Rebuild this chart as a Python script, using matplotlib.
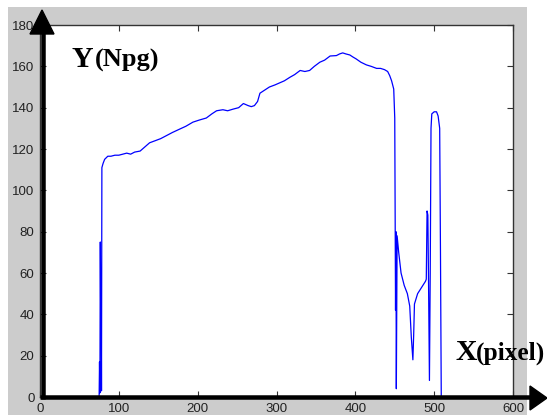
import matplotlib
matplotlib.use("Agg")
import matplotlib.pyplot as plt
from matplotlib.patches import Rectangle, Polygon
from matplotlib.lines import Line2D

# ---- data ----
x_vals = [0, 75.0, 75.5, 76.0, 76.5, 77.0, 77.5, 78.0, 78.5, 80, 82, 86, 90, 95, 100, 105,
          110, 115, 120, 127, 133, 139, 146, 153, 160, 168, 177, 185, 194, 202, 211,
          218, 224, 232, 238, 245, 252, 258, 264, 268, 272, 276, 279, 285, 291, 298,
          304, 310, 317, 323, 330, 336, 342, 348, 355, 361, 368, 376, 380, 384, 388,
          393, 397, 401, 407, 414, 420, 427, 432, 437, 441, 443.6, 446, 448.7, 450,
          451, 451.5, 452, 453, 455, 458, 462, 466, 469, 471, 473, 474, 475, 479,
          484, 489, 490, 491, 492, 493, 494, 495, 496, 497, 500, 503, 505, 507, 508,
          509, 512]
y_vals = [0, 0, 17, 2, 75, 39, 60, 3, 111, 113, 115, 116.5, 116.5, 117, 117, 117.5,
          118, 117.5, 118.5, 119, 121, 123, 124, 125, 126.4, 128, 129.6, 131, 133, 134, 135,
          137, 138.5, 139, 138.5, 139.3, 140, 142, 141, 140.5, 141, 143, 147, 148.5, 150, 151,
          152, 153, 154.7, 156, 158, 157.5, 158, 160, 162, 163, 165, 165.2, 166, 166.5, 166,
          165.5, 164.5, 163.6, 162, 160.7, 160, 159, 159, 158.4, 157.5, 155.5, 153, 149, 135,
          42, 80, 4, 78, 70, 60, 54, 50, 44, 29, 18, 30, 45, 50,
          53, 56, 57, 90, 88, 50, 8, 60, 130, 137, 138, 138, 136, 130, 70,
          0, 0]

x_ticks = [0, 100, 200, 300, 400, 500, 600]
y_ticks = [0, 20, 40, 60, 80, 100, 120, 140, 160, 180]

W, H = 547, 415
fig = plt.figure(figsize=(W / 100, H / 100), dpi=100)
fig.patch.set_facecolor("white")

def fp(x, y):
    return (x / W, 1 - y / H)

# gray MATLAB-like background
bg = Rectangle(fp(8, 415), (527 - 8) / W, (415 - 7) / H,
               transform=fig.transFigure, facecolor="#cccccc",
               edgecolor="none", zorder=-10)
fig.add_artist(bg)

ax = fig.add_axes([40 / W, (H - 397) / H, (513 - 40) / W, (397 - 25) / H])
ax.set_zorder(1)
ax.set_facecolor("white")
ax.plot(x_vals, y_vals, color="#0000ff", lw=0.9)
ax.set_xlim(0, 600)
ax.set_ylim(0, 180)
ax.set_xticks(x_ticks)
ax.set_yticks(y_ticks)
ax.tick_params(direction="in", length=4.5, width=0.8, colors="#333333",
               top=True, right=True, labelsize=9.5, labelcolor="#222222", pad=4)
for lab in ax.get_xticklabels() + ax.get_yticklabels():
    lab.set_fontfamily("Liberation Sans")
for s in ax.spines.values():
    s.set_color("#333333")
    s.set_linewidth(1.0)

# thick black arrows
lw_px = 4.5
arts = [
    Line2D([fp(42.5, 0)[0]] * 2, [fp(0, 399)[1], fp(0, 30)[1]],
           transform=fig.transFigure, color="black", lw=lw_px * 0.72,
           solid_capstyle="butt", zorder=5),
    Polygon([fp(42, 10), fp(30, 34), fp(54, 34)], closed=True,
            transform=fig.transFigure, color="black", zorder=5),
    Line2D([fp(40, 0)[0], fp(532, 0)[0]], [fp(0, 397)[1]] * 2,
           transform=fig.transFigure, color="black", lw=lw_px * 0.72,
           solid_capstyle="butt", zorder=5),
    Polygon([fp(547, 398), fp(530, 386), fp(530, 410)], closed=True,
            transform=fig.transFigure, color="black", zorder=5),
]
for a in arts:
    fig.add_artist(a)

# axis captions
serif = "Liberation Serif"
for (px, py, s, fs) in [(72, 67, "Y", 21.5), (95, 67, "(Npg)", 19),
                        (455, 360, "X", 21.5), (476, 360, "(pixel)", 18.3)]:
    t = fig.text(*fp(px, py), s, fontsize=fs, fontweight="bold", family=serif,
                 ha="left", va="baseline")
    t.set_zorder(6)

fig.savefig("out.png", dpi=100)
